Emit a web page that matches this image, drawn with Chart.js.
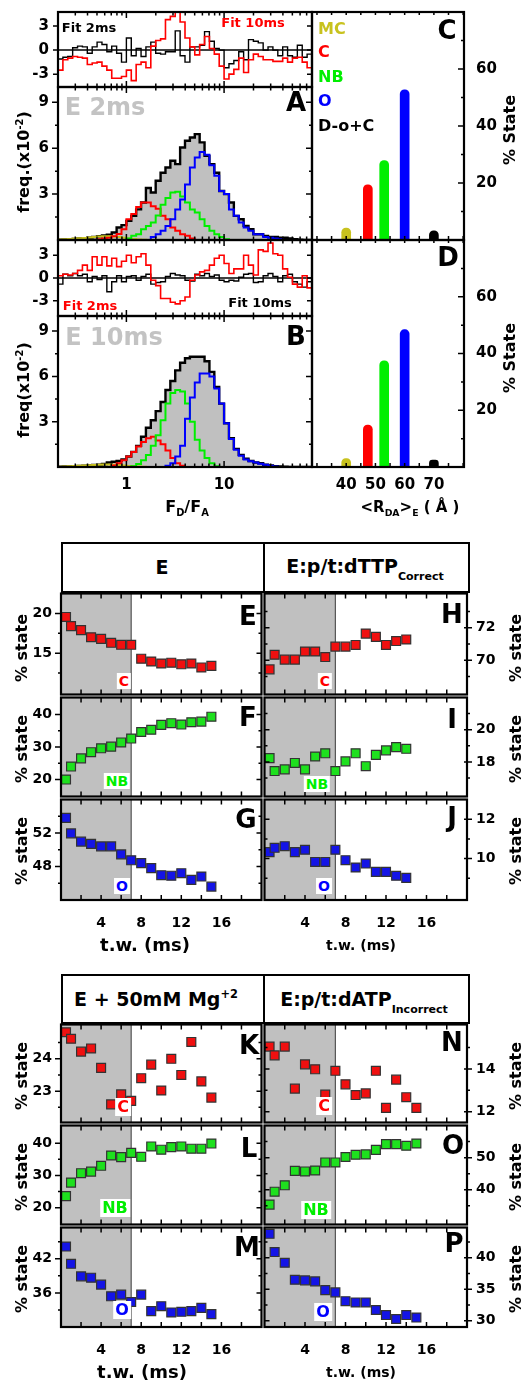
<!DOCTYPE html>
<html><head><meta charset="utf-8">
<script src="https://cdn.jsdelivr.net/npm/chart.js@4.4.1/dist/chart.umd.min.js"></script>
<style>
body{margin:0;background:#fff;width:526px;height:1383px;position:relative;overflow:hidden;font-family:"DejaVu Sans",sans-serif;}
canvas{position:absolute;}
.t{position:absolute;white-space:nowrap;font-weight:bold;line-height:1;z-index:5;}
.c{transform:translate(-50%,-50%);}
.r{transform:translate(-50%,-50%) rotate(-90deg);}
.lab{background:#fff;padding:1px 2px;}
.box{position:absolute;border:2.5px solid #000;box-sizing:border-box;background:#fff;z-index:4;}
sub,sup{font-size:62%;line-height:0;}
</style></head><body>
<script>
// ---------------- DATA ----------------
const binEdges = [0.1995,0.2239,0.2512,0.2818,0.3162,0.3548,0.3981,0.4467,0.5012,0.5623,0.631,0.7079,0.7943,0.8913,1,1.122,1.259,1.413,1.585,1.778,1.995,2.239,2.512,2.818,3.162,3.548,3.981,4.467,5.012,5.623,6.31,7.079,7.943,8.913,10,11.22,12.59,14.13,15.85,17.78,19.95,22.39,25.12,28.18,31.62,35.48,39.81,44.67,50.12,56.23,63.1,70.79,79.43];
const histA_total = [0.02,0.03,0.05,0.07,0.1,0.12,0.15,0.2,0.25,0.3, 0.35,0.49,0.82,0.97,1.25,1.58,2.0,2.45,3.4,3.1, 3.87,4.4,4.74,5.18,4.96,6.05,6.49,6.7,6.92,6.38, 5.5,4.96,4.4,3.2,3.0,2.45,1.58,1.36,0.92,0.7, 0.38,0.38,0.27,0.2,0.2,0.15,0.15,0.1,0.05,0.02, 0,0];
const histA_MC = [0.03,0.05,0.07,0.09,0.11,0.13,0.16,0.2,0.23,0.25, 0.25,0.23,0.2,0.15,0.1,0.06,0.03,0.01,0,0, 0,0,0,0,0,0,0,0,0,0, 0,0,0,0,0,0,0,0,0,0, 0,0,0,0,0,0,0,0,0,0, 0,0];
const histA_C = [0,0,0,0,0,0,0,0,0.05,0.1, 0.15,0.25,0.4,0.7,1.36,1.7,2.15,2.45,2.45,2.2, 2.05,1.58,1.36,0.82,0.6,0.38,0.27,0.1,0,0, 0,0,0,0,0,0,0,0,0,0, 0,0,0,0,0,0,0,0,0,0, 0,0];
const histA_NB = [0,0,0,0,0,0,0,0,0,0, 0,0,0,0,0.1,0.27,0.38,0.7,0.92,1.15, 1.6,2.3,2.75,3.1,3.15,2.85,2.45,2.0,1.8,1.36, 0.92,0.6,0.38,0.2,0.05,0,0,0,0,0, 0,0,0,0,0,0,0,0,0,0, 0,0];
const histA_O = [0,0,0,0,0,0,0,0,0,0, 0,0,0,0,0,0,0,0,0,0.2, 0.38,0.6,0.92,1.36,2.0,2.65,3.63,4.74,5.4,5.75, 5.58,4.88,4.2,3.2,3.0,2.0,1.58,1.15,0.82,0.6, 0.38,0.38,0.2,0.15,0.1,0.05,0,0,0,0, 0,0];
const histB_total = [0.02,0.03,0.04,0.05,0.07,0.09,0.11,0.13,0.15,0.2, 0.3,0.35,0.4,0.5,0.7,1.0,1.4,2.0,2.6,3.1, 3.7,4.3,5.1,5.7,6.4,6.9,7.2,7.3,7.3,7.3, 7.0,6.3,5.3,4.2,2.9,1.9,1.2,0.8,0.55,0.4, 0.3,0.25,0.15,0.1,0.05,0.03,0.02,0.01,0,0, 0,0];
const histB_MC = [0.02,0.03,0.05,0.06,0.08,0.1,0.12,0.14,0.15,0.16, 0.16,0.15,0.13,0.1,0.07,0.05,0.03,0.01,0,0, 0,0,0,0,0,0,0,0,0,0, 0,0,0,0,0,0,0,0,0,0, 0,0,0,0,0,0,0,0,0,0, 0,0];
const histB_C = [0,0,0,0,0,0,0,0,0,0, 0,0.1,0.25,0.45,0.7,1.0,1.35,1.65,1.9,2.0, 1.75,1.5,1.1,0.6,0.25,0.08,0,0,0,0, 0,0,0,0,0,0,0,0,0,0, 0,0,0,0,0,0,0,0,0,0, 0,0];
const histB_NB = [0,0,0,0,0,0,0,0,0,0, 0,0,0,0,0,0.05,0.2,0.45,0.8,1.4, 2.1,3.1,4.2,4.9,5.1,5.0,4.2,3.0,1.8,1.1, 0.6,0.25,0.05,0,0,0,0,0,0,0, 0,0,0,0,0,0,0,0,0,0, 0,0];
const histB_O = [0,0,0,0,0,0,0,0,0,0, 0,0,0,0,0,0,0,0,0,0, 0,0,0.08,0.25,0.7,1.4,3.2,4.6,5.6,6.2, 6.2,6.0,5.2,4.2,2.9,1.85,1.15,0.75,0.5,0.38, 0.3,0.22,0.15,0.08,0.03,0,0,0,0,0, 0,0];
const resA_fit2 = [-1.1,-0.9,-0.8,0.3,0.5,0.4,-0.4,0.4,1.0,0.7, -0.2,0.5,-0.4,-1.5,1.5,-0.7,0.2,-0.8,0.4,1.0, -0.4,-0.5,-0.2,-0.2,2.4,-0.7,-1.5,0.4,0.4,0.6, 2.3,1.1,0.2,0.0,-2.2,-1.7,-1.3,-0.2,-1.2,1.3, 1.1,0.9,0.0,0.4,0.0,-0.7,0.4,-0.7,-0.9,0.6, -0.9,-0.5];
const resA_fit10 = [-2.5,-1.2,-1.0,-0.8,-0.9,-1.0,-1.8,-1.6,-1.5,-2.0, -2.5,-3.5,-3.5,-3.3,-2.5,-3.8,-1.8,-1.5,-2.2,0.5, 1.2,1.4,3.8,4.2,5.2,3.5,1.5,0.4,-0.6,0.7, 1.7,0.2,-0.5,-2.0,-3.6,-3.0,-2.4,-1.0,-2.8,-1.2, -0.5,-0.8,-1.2,-1.2,-1.4,-1.4,-1.0,-1.5,-1.0,-0.9, -1.5,-2.2];
const resB_fit2 = [0.3,0.5,0.4,0.6,1.0,1.7,1.0,2.8,1.7,2.8, 1.6,2.6,1.5,2.2,3.0,2.0,2.8,3.2,1.7,-0.3, -1.0,-2.7,-2.7,-3.2,-3.4,-3.0,-2.5,-0.3,0.4,0.8, 1.0,1.7,2.6,3.0,1.9,0.6,1.2,1.2,3.0,1.7, 0.4,3.7,3.5,4.6,3.2,3.0,1.2,0.1,-0.8,-1.2, 0.3,-1.3];
const resB_fit10 = [-0.8,0.5,0.3,0.6,0.3,0.5,-0.5,0.2,-0.2,0.3, -1.8,-0.5,0.3,-0.5,0.2,0.3,-0.3,0.2,0.5,-0.8, -0.6,-0.5,0.2,0.6,0.4,0.3,-0.3,-0.4,0.5,0.3, 0.6,0.2,0.4,-0.3,-0.5,-0.3,-0.4,0.1,0.5,0.6, -0.6,-0.5,0.3,0.6,0.2,-0.5,0.3,0.5,-0.5,-0.8, -1.2,-0.5];

const stateNames = ['MC','C','NB','O','D-o+C'];
const stateR = [40, 47.4, 53, 60, 70];
const stateC = [4.2, 19.4, 27.9, 52.7, 3.2];
const stateD = [3.0, 14.8, 37.4, 48.4, 2.4];

const twLeft = [0.5,1,2,3,4,5,6,7,8,9,10,11,12,13,14,15];
const twH = [0.5,1,2,3,4,5,6,7,8,9,10,11,12,13,14];
const pE_C  = [19.55,18.4,17.9,17.0,16.8,16.3,16.05,16.05,14.3,13.95,13.7,13.8,13.6,13.7,13.2,13.4];
const pF_NB = [20.0,24.0,26.5,28.4,29.6,30.1,31.4,32.6,34.6,35.3,36.8,37.3,36.9,37.6,37.8,39.3];
const pG_O  = [53.8,51.95,50.97,50.7,50.4,50.4,49.45,48.74,48.4,47.8,46.96,46.9,47.2,46.4,46.8,45.6];
const pH_C  = [69.44,70.34,70.04,70.04,70.54,70.54,70.2,70.84,70.84,70.94,71.64,71.44,70.94,71.18,71.28];
const pI_NB = [18.24,17.44,17.54,17.94,17.54,18.34,18.54,17.44,18.04,18.54,17.74,18.44,18.72,18.92,18.82];
const pJ_O  = [10.33,10.55,10.63,10.33,10.45,9.83,9.83,10.45,9.92,9.55,9.75,9.33,9.33,9.13,9.02];
const pK_C  = [24.82,24.62,24.22,24.32,23.72,22.59,22.9,22.7,23.4,23.82,23.02,24.0,23.5,24.52,23.3,22.8];
const pL_NB = [23.6,27.8,30.7,31.2,33.0,36.2,35.7,37.0,35.8,39.0,38.0,38.8,39.0,38.3,38.3,39.9];
const pM_O  = [44.15,41.12,38.9,38.67,37.45,35.4,35.7,34.4,35.7,32.8,33.66,32.56,32.67,32.8,33.37,32.26];
const pN_C  = [15.04,14.63,15.04,13.08,14.21,13.98,12.8,13.91,13.28,12.78,12.86,13.91,12.18,13.5,12.68,12.18];
const pO_NB = [35.4,39.4,41.4,45.9,45.7,46.0,48.5,48.5,50.2,50.9,51.0,52.4,54.2,54.2,53.7,54.4];
const pP_O  = [43.8,40.9,39.2,36.5,36.4,36.25,34.85,34.5,33.1,32.9,32.9,31.7,30.9,30.27,30.9,30.5];

const histMajor = [1,10];
const histMinor = [0.2,0.3,0.4,0.5,0.6,0.7,0.8,0.9,2,3,4,5,6,7,8,9,20,30,40,50,60,70];
const twMajor = [4,8,12,16];
const twAll = [2,4,6,8,10,12,14,16,18];

// ---------------- HELPERS ----------------
const FONT = '"DejaVu Sans", sans-serif';
const RED='#ff0000', GRN='#00ee00', BLU='#0000ff', YEL='#c8c21e';
const MRED='#f01010', MGRN='#1ee01e', MBLU='#1414e6';

function stepData(vals){
  const d = vals.map((v,i)=>({x:binEdges[i], y:v}));
  d.push({x:binEdges[vals.length], y:vals[vals.length-1]});
  return d;
}
function stepDS(vals,color,w,order,fill){
  return {type:'line',data:stepData(vals),borderColor:color,borderWidth:w,stepped:true,pointRadius:0,order:order,
    fill:fill?'origin':false,backgroundColor:fill||'transparent',tension:0};
}
function ptsDS(tw,vals,color){
  return {data:tw.map((t,i)=>({x:t,y:vals[i]})),pointStyle:'rect',pointRadius:6.3,pointHoverRadius:6.3,
    backgroundColor:color,borderColor:'#333',borderWidth:1.2,showLine:false};
}
function noPad(s){ s.paddingTop=0; s.paddingBottom=0; s.paddingLeft=0; s.paddingRight=0; }

function panel(o){
  const pl=o.pl, pr=o.pr, pt=o.pt, pb=o.pb;
  const W=o.w+pl+pr, H=o.h+pt+pb;
  const cv=document.createElement('canvas');
  cv.width=W; cv.height=H;
  Object.assign(cv.style,{left:(o.l-pl)+'px',top:(o.t-pt)+'px',width:W+'px',height:H+'px'});
  document.body.appendChild(cv);
  const yRight=o.yPos==='right';
  const tf={family:FONT,size:o.fs||14,weight:'bold'};
  const deco={id:'deco',
    beforeDatasetsDraw(ch){
      const c=ch.ctx,a=ch.chartArea;
      c.save();
      if(o.shade){
        const xs=ch.scales.x, x0=xs.getPixelForValue(o.shade[0]), x1=xs.getPixelForValue(o.shade[1]);
        c.fillStyle='#c0c0c0'; c.fillRect(x0,a.top,x1-x0,a.bottom-a.top);
        c.strokeStyle='#555'; c.lineWidth=1.2; c.beginPath(); c.moveTo(x1,a.top); c.lineTo(x1,a.bottom); c.stroke();
      }
      if(o.zero){
        const y=ch.scales.y.getPixelForValue(0);
        c.strokeStyle='#000'; c.lineWidth=1.5; c.beginPath(); c.moveTo(a.left,y); c.lineTo(a.right,y); c.stroke();
      }
      c.restore();
    },
    afterDatasetsDraw(ch){
      const c=ch.ctx,a=ch.chartArea,xs=ch.scales.x,ys=ch.scales.y;
      c.save(); c.strokeStyle='#000'; c.lineWidth=1.5; c.beginPath();
      (o.xt||[]).forEach(g=>g.v.forEach(v=>{
        const p=xs.getPixelForValue(v);
        if(g.top){c.moveTo(p,a.top-g.top[1]); c.lineTo(p,a.top+g.top[0]);}
        if(g.bot){c.moveTo(p,a.bottom+g.bot[1]); c.lineTo(p,a.bottom-g.bot[0]);}
      }));
      (o.yt||[]).forEach(g=>g.v.forEach(v=>{
        const p=ys.getPixelForValue(v);
        if(g.l){c.moveTo(a.left-g.l[1],p); c.lineTo(a.left+g.l[0],p);}
        if(g.r){c.moveTo(a.right+g.r[1],p); c.lineTo(a.right-g.r[0],p);}
      }));
      c.stroke();
      c.lineWidth=o.frameW||2.2; c.strokeRect(a.left,a.top,a.right-a.left,a.bottom-a.top);
      c.restore();
    }
  };
  return new Chart(cv,{type:o.type,data:{datasets:o.datasets},options:{
    responsive:false,animation:false,devicePixelRatio:1,events:[],
    layout:{padding:{top:pt,bottom:0,left:yRight?pl:0,right:yRight?0:pr}},
    plugins:{legend:{display:false},tooltip:{enabled:false}},
    scales:{
      x:{type:o.xType||'linear',min:o.xMin,max:o.xMax,offset:false,
        grid:{display:false,drawTicks:false},border:{display:false},
        ticks:{display:!!o.xShow,font:tf,color:'#000',padding:o.xPad||8,maxRotation:0,minRotation:0,autoSkip:false,callback:v=>String(v)},
        afterBuildTicks:s=>{s.ticks=o.xLab.map(v=>({value:v}));},
        afterFit:s=>{s.height=pb; noPad(s);}},
      y:{type:'linear',position:yRight?'right':'left',min:o.yMin,max:o.yMax,
        grid:{display:false,drawTicks:false},border:{display:false},
        ticks:{display:true,font:tf,color:'#000',padding:o.yPad||9,autoSkip:false,callback:v=>String(v)},
        afterBuildTicks:s=>{s.ticks=o.yLab.map(v=>({value:v}));},
        afterFit:s=>{s.width=yRight?pr:pl; noPad(s);}}
    }},plugins:[deco]});
}

function txt(html,x,y,size,color,cls,extra){
  const d=document.createElement('div');
  d.className='t '+(cls||'c');
  d.innerHTML=html;
  d.style.left=x+'px'; d.style.top=y+'px'; d.style.fontSize=size+'px'; d.style.color=color||'#000';
  if(extra) Object.assign(d.style,extra);
  document.body.appendChild(d);
  return d;
}
function hbox(l,t,w,h){
  const d=document.createElement('div'); d.className='box';
  Object.assign(d.style,{left:l+'px',top:t+'px',width:w+'px',height:h+'px'});
  document.body.appendChild(d);
}

// ---------------- TOP: histograms ----------------
const histXT=[{v:histMajor,top:[6,0],bot:[6,0]},{v:histMinor,top:[3.5,0],bot:[3.5,0]}];
const resYT=[{v:[-3,0,3],l:[0,5],r:[5,0]}];
const histYT=[{v:[3,6,9],l:[0,6],r:[6,0]},{v:[1.5,4.5,7.5],l:[0,3],r:[3,0]}];
const hbase={type:'line',l:58,w:254,pl:58,pr:6,xType:'logarithmic',xMin:0.1995,xMax:79.43,xLab:histMajor,fs:15,xt:histXT};

panel(Object.assign({},hbase,{t:12,h:75,pt:10,pb:4,yMin:-4.6,yMax:4.75,yLab:[-3,0,3],yt:resYT,zero:true,
  datasets:[stepDS(resA_fit2,'#000',1.4,2),stepDS(resA_fit10,RED,1.6,1)]}));
panel(Object.assign({},hbase,{t:87,h:153,pt:6,pb:4,yMin:0,yMax:10,yLab:[3,6,9],yt:histYT,
  datasets:[stepDS(histA_total,'#000',2.4,10,'#c0c0c0'),stepDS(histA_MC,YEL,2,4),stepDS(histA_C,RED,2,3),stepDS(histA_NB,GRN,2,2),stepDS(histA_O,BLU,2,1)]}));
panel(Object.assign({},hbase,{t:240,h:76,pt:6,pb:4,yMin:-5,yMax:5,yLab:[-3,0,3],yt:resYT,zero:true,
  datasets:[stepDS(resB_fit10,'#000',1.4,2),stepDS(resB_fit2,RED,1.6,1)]}));
panel(Object.assign({},hbase,{t:316,h:151,pt:6,pb:40,xShow:true,xPad:9,yMin:0,yMax:10,yLab:[3,6,9],yt:histYT,
  datasets:[stepDS(histB_total,'#000',2.4,10,'#c0c0c0'),stepDS(histB_MC,YEL,2,4),stepDS(histB_C,RED,2,3),stepDS(histB_NB,GRN,2,2),stepDS(histB_O,BLU,2,1)]}));

// ---------------- TOP: state bars ----------------
const stateCols=[YEL,RED,GRN,BLU,'#000'];
function barDS(vals){
  return {type:'bar',data:stateR.map((r,i)=>({x:r,y:vals[i]})),backgroundColor:stateCols,borderWidth:0,
    barThickness:9,borderRadius:{topLeft:4.5,topRight:4.5,bottomLeft:0,bottomRight:0},borderSkipped:'start'};
}
const barXT=[{v:[30,35,40,45,50,55,60,65,70,75,80],top:[3,0],bot:[4,0]}];
const barYT=[{v:[20,40,60],r:[6,0]},{v:[10,30,50,70],r:[3,0]}];
panel({type:'bar',l:312,w:152,t:12,h:228,pl:6,pr:62,pt:10,pb:4,yPos:'right',xMin:28.3,xMax:80.3,xLab:[40,50,60,70],
  yMin:0,yMax:80,yLab:[20,40,60],yPad:12,fs:15,xt:barXT,yt:barYT,datasets:[barDS(stateC)]});
panel({type:'bar',l:312,w:152,t:240,h:227,pl:6,pr:62,pt:6,pb:40,yPos:'right',xMin:28.3,xMax:80.3,xLab:[40,50,60,70],xShow:true,xPad:9,
  yMin:0,yMax:80,yLab:[20,40,60],yPad:12,fs:15,xt:barXT,yt:barYT,datasets:[barDS(stateD)]});

// ---------------- TIME PANELS ----------------
const leftXT=[{v:twAll,top:[5,0],bot:[5,0]}];
function leftPanel(t,h,pb,show,yMin,yMax,yLab,yMinor,ds){
  panel({type:'scatter',l:61,w:202,t:t,h:h,pl:61,pr:6,pt:6,pb:pb,xMin:0,xMax:20,xLab:twMajor,xShow:show,xPad:15,
    yMin:yMin,yMax:yMax,yLab:yLab,yPad:9,fs:14,shade:[0,7],xt:leftXT,
    yt:[{v:yLab,l:[0,6],r:[5,0]},{v:yMinor,l:[0,3],r:[3,0]}],datasets:[ds]});
}
function rightPanel(t,h,pb,show,yMin,yMax,yLab,yMinor,ds){
  panel({type:'scatter',l:263,w:204,t:t,h:h,pl:6,pr:59,pt:6,pb:pb,yPos:'right',xMin:0,xMax:20,xLab:twMajor,xShow:show,xPad:15,
    yMin:yMin,yMax:yMax,yLab:yLab,yPad:9,fs:14,shade:[0,7],xt:leftXT,
    yt:[{v:yLab,l:[5,0],r:[3,5]},{v:yMinor,l:[3,0],r:[0,3]}],datasets:[ds]});
}
leftPanel(592,104,6,false,9.8,22.5,[15,20],[12.5,17.5],ptsDS(twLeft,pE_C,MRED));
leftPanel(696,102,6,false,14.8,45.2,[20,30,40],[25,35],ptsDS(twLeft,pF_NB,MGRN));
leftPanel(798,102,40,true,44,56,[48,52],[46,50,54],ptsDS(twLeft,pG_O,MBLU));
rightPanel(592,104,6,false,67.9,74.1,[70,72],[69,71,73],ptsDS(twH,pH_C,MRED));
rightPanel(696,102,6,false,15.86,22,[18,20],[17,19,21],ptsDS(twH,pI_NB,MGRN));
rightPanel(798,102,40,true,7.9,13,[10,12],[9,11],ptsDS(twH,pJ_O,MBLU));

leftPanel(1023,101,6,false,22.03,25.06,[23,24],[22.5,23.5,24.5],ptsDS(twLeft,pK_C,MRED));
leftPanel(1124,102,6,false,14.8,45.5,[20,30,40],[25,35],ptsDS(twLeft,pL_NB,MGRN));
leftPanel(1226,101,40,true,30,47.5,[36,42],[33,39,45],ptsDS(twLeft,pM_O,MBLU));
rightPanel(1023,101,6,false,11.5,16.07,[12,14],[13,15],ptsDS(twLeft,pN_C,MRED));
rightPanel(1124,102,6,false,29.2,60,[40,50],[35,45,55],ptsDS(twLeft,pO_NB,MGRN));
rightPanel(1226,101,40,true,29,44.8,[30,35,40],[32.5,37.5,42.5],ptsDS(twLeft,pP_O,MBLU));

// ---------------- TEXT ----------------
txt('Fit 2ms',89,27,13,'#000');
txt('Fit 10ms',253,22,13,RED);
txt('Fit 2ms',90,305,13,RED);
txt('Fit 10ms',260,302,13,'#000');
txt('E 2ms',105,107,24,'#c3c3c3');
txt('E 10ms',114,337,24,'#c3c3c3');
txt('A',296,102,26); txt('B',296,336,26); txt('C',447,30,26); txt('D',448,257,26);
const legY=[29,52,77,101,126], legC=[YEL,RED,GRN,BLU,'#000'];
stateNames.forEach((n,i)=>txt(n,318,legY[i],16,legC[i],'',{transform:'translateY(-50%)'}));
txt('freq.(x10<sup>-2</sup>)',24,162,16,'#000','r');
txt('freq(x10<sup>-2</sup>)',24,390,16,'#000','r');
txt('F<sub>D</sub>/F<sub>A</sub>',187,507,16);
txt('&lt;R<sub>DA</sub>&gt;<sub>E</sub>&nbsp;( Å )',410,507,15);
txt('% State',510,130,16,'#000','r');
txt('% State',510,358,16,'#000','r');

hbox(61,542,204,51); hbox(263,542,207,51);
hbox(61,974,204,50); hbox(263,974,207,50);
txt('E',162,567,19);
txt('E:p/t:dTTP<sub style="font-size:58%;vertical-align:-0.55em">Correct</sub>',365,567,19);
txt('E + 50mM Mg<sup style="font-size:60%;vertical-align:0.7em">+2</sup>',156,999,19);
txt('E:p/t:dATP<sub style="font-size:58%;vertical-align:-0.55em">Incorrect</sub>',364,1000,19);

[['E',248,616],['F',248,717],['G',246,819],['H',452,614],['I',452,719],['J',452,817],
 ['K',249,1045],['L',249,1148],['M',247,1247],['N',452,1042],['O',453,1145],['P',454,1243]]
 .forEach(a=>txt(a[0],a[1],a[2],26));

txt('C',124,681,14,RED,'c lab'); txt('NB',117,781,14,GRN,'c lab'); txt('O',122,886,14,BLU,'c lab');
txt('C',325,681,14,RED,'c lab'); txt('NB',317,784,14,GRN,'c lab'); txt('O',324,886,14,BLU,'c lab');
txt('C',123,1107,16,RED,'c lab'); txt('NB',115,1208,16,GRN,'c lab'); txt('O',122,1310,16,BLU,'c lab');
txt('C',324,1106,16,RED,'c lab'); txt('NB',316,1210,16,GRN,'c lab'); txt('O',323,1312,16,BLU,'c lab');

[648,749,851,1076,1177,1279].forEach(y=>{ txt('% state',22,y,16,'#000','r'); txt('% state',516,y,16,'#000','r'); });
txt('t.w. (ms)',145,945,18); txt('t.w. (ms)',361,945,14);
txt('t.w. (ms)',142,1372,18); txt('t.w. (ms)',361,1372,14);
</script>
</body></html>
